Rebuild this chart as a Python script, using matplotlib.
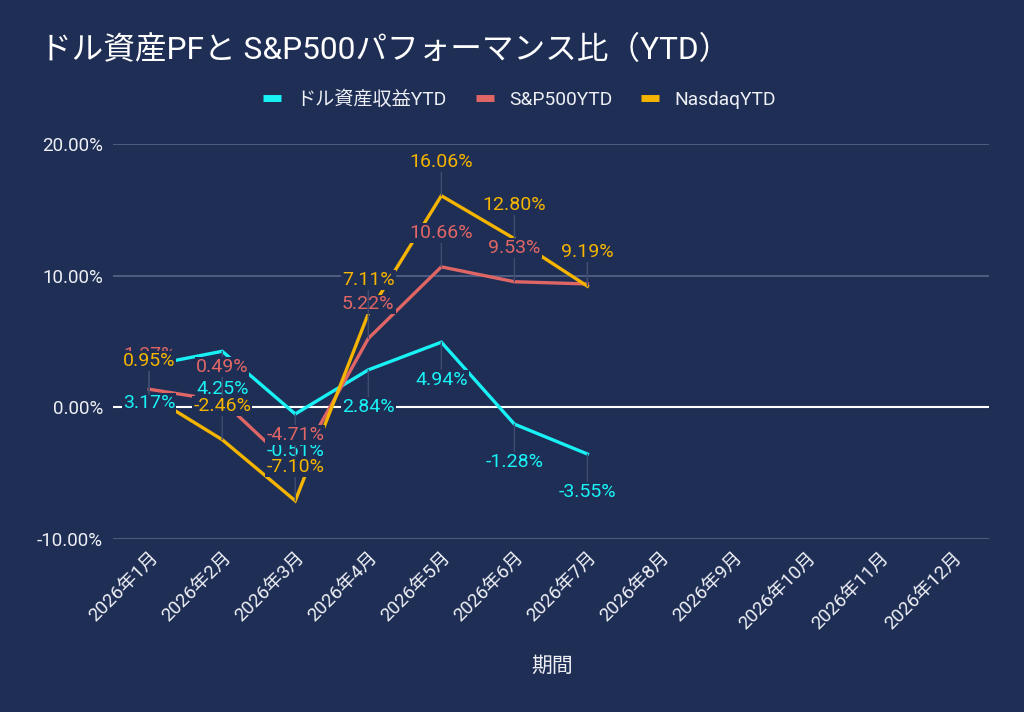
import matplotlib
matplotlib.use("Agg")
import matplotlib.pyplot as plt
from matplotlib.lines import Line2D
from matplotlib.ticker import FuncFormatter

plt.rcParams['font.family'] = ['Roboto', 'Noto Sans CJK JP', 'DejaVu Sans']

# data
months = [f"2026年{m}月" for m in range(1, 13)]
dollar_ytd = [3.17, 4.25, -0.51, 2.84, 4.94, -1.28, -3.55]
sp500_ytd = [1.37, 0.49, -4.71, 5.22, 10.66, 9.53, 9.36]
nasdaq_ytd = [0.95, -2.46, -7.10, 7.11, 16.06, 12.80, 9.19]

bg = "#1f2e55"
c_cyan = "#19f2f5"
c_red = "#e06666"
c_orange = "#f4b400"
grid_c = "#56668a"
lead_c = "#3e4c70"
txt_c = "#eef0f5"

fig = plt.figure(figsize=(10.24, 7.12), dpi=100, facecolor=bg)
ax = fig.add_axes([0.110, 0.243, 0.856, 0.555], facecolor=bg)

series = [
    ("ドル資産収益YTD", dollar_ytd, c_cyan, -27),
    ("S&P500YTD", sp500_ytd, c_red, 24.5),
    ("NasdaqYTD", nasdaq_ytd, c_orange, 24.5),
]

for name, vals, col, off in series:
    xs = list(range(len(vals)))
    ax.plot(xs, vals, color=col, lw=2.4, zorder=3, solid_joinstyle="miter")

# labels with leader lines (drawn after all lines)
for name, vals, col, off in series:
    for i, v in enumerate(vals):
        ax.annotate(f"{v:.2f}%", xy=(i, v), xytext=(0, off), textcoords="offset points",
                    ha="center", va="center", fontsize=14, color=col, zorder=5,
                    bbox=dict(boxstyle="square,pad=0.05", fc=bg, ec="none"),
                    arrowprops=dict(arrowstyle="-", color=lead_c, lw=1,
                                    shrinkA=0, shrinkB=0))

ax.set_xlim(-0.5, 11.5)
ax.set_ylim(-10, 20)
ax.set_yticks([-10, 0, 10, 20])
ax.yaxis.set_major_formatter(FuncFormatter(lambda v, p: f"{v:.2f}%"))
ax.set_xticks(range(12))
ax.set_xticklabels(months, rotation=45, ha="right", rotation_mode="anchor")
for y in [-10, 10, 20]:
    ax.axhline(y, color=grid_c, lw=1.2, zorder=1)
ax.axhline(0, color="#ffffff", lw=1.5, zorder=2)

for s in ax.spines.values():
    s.set_visible(False)
ax.tick_params(axis="both", length=0, colors=txt_c, labelsize=13.5)
ax.tick_params(axis="x", pad=7)
ax.tick_params(axis="y", pad=7)

fig.text(0.039, 0.930, "ドル資産PFと S&P500パフォーマンス比（YTD）", fontsize=22.8,
         color="#ffffff", va="center", ha="left")
fig.text(0.539, 0.064, "期間", fontsize=15, color=txt_c, ha="center", va="center")

handles = [Line2D([0], [0], color=col, lw=5, solid_capstyle="butt") for _, _, col, _ in series]
fig.legend(handles, [s[0] for s in series], loc="center", bbox_to_anchor=(0.5075, 0.860),
           ncol=3, frameon=False, fontsize=13.8, labelcolor=txt_c,
           handlelength=0.95, handletextpad=0.8, columnspacing=1.5)

fig.savefig("out.png", dpi=100, facecolor=bg)
